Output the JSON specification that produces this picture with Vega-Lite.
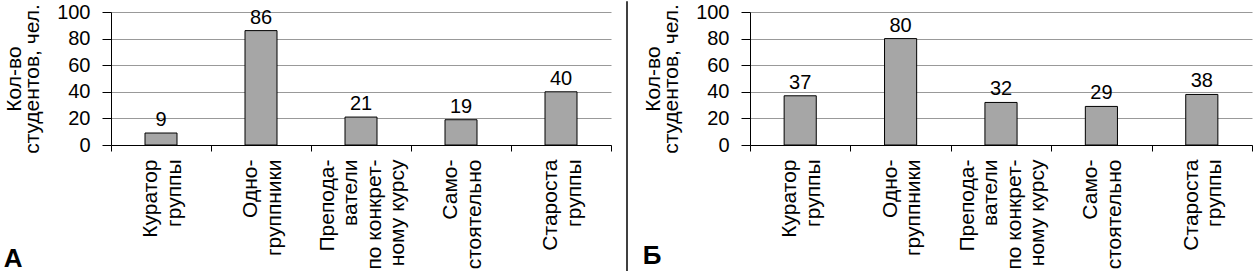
{
  "$schema": "https://vega.github.io/schema/vega-lite/v6.json",
  "padding": {"left": 3, "top": 0, "right": 0, "bottom": 0},
  "background": "white",
  "config": {
    "font": "Liberation Sans",
    "view": {"stroke": null},
    "concat": {"spacing": 14},
    "axis": {
      "labelFont": "Liberation Sans", "labelFontSize": 20, "labelColor": "black",
      "titleFont": "Liberation Sans", "titleFontSize": 21, "titleFontWeight": "normal", "titleColor": "black",
      "domainColor": "black", "tickColor": "black"
    },
    "axisX": {
      "title": null, "labelAngle": -90, "labelExpr": "split(datum.label, '|')", "tickBand": "extent",
      "tickSize": 6, "labelPadding": 8, "labelFontSize": 21, "labelLineHeight": 23.5, "grid": false,
      "labelOffset": {"condition": {"test": "length(split(datum.value, '|')) == 4", "value": -34}, "value": -10.5}
    },
    "axisY": {
      "values": [0, 20, 40, 60, 80, 100], "titlePadding": 14, "tickSize": 9, "labelPadding": 12,
      "gridColor": "#999999", "titleLineHeight": 18
    },
    "title": {"font": "Liberation Sans", "fontSize": 26, "fontWeight": "bold", "color": "black"}
  },
  "datasets": {
    "a": [
      {"category": "Куратор|группы", "value": 9},
      {"category": "Одно-|группники", "value": 86},
      {"category": "Препода-|ватели|по конкрет-|ному курсу", "value": 21},
      {"category": "Само-|стоятельно", "value": 19},
      {"category": "Староста|группы", "value": 40}
    ],
    "b": [
      {"category": "Куратор|группы", "value": 37},
      {"category": "Одно-|группники", "value": 80},
      {"category": "Препода-|ватели|по конкрет-|ному курсу", "value": 32},
      {"category": "Само-|стоятельно", "value": 29},
      {"category": "Староста|группы", "value": 38}
    ]
  },
  "hconcat": [
    {
      "width": 500, "height": 133,
      "data": {"name": "a"},
      "title": {"text": "А", "orient": "bottom", "anchor": "start", "frame": "bounds", "offset": -23},
      "encoding": {
        "x": {"field": "category", "type": "nominal", "sort": null,
          "scale": {"paddingInner": 0, "paddingOuter": 0}},
        "y": {"field": "value", "type": "quantitative", "scale": {"domain": [0, 100]},
          "axis": {"title": ["Кол-во", "студентов, чел."]}}
      },
      "layer": [
        {"mark": {"type": "bar", "width": {"band": 0.32}, "fill": "#a6a6a6", "stroke": "black", "strokeWidth": 1}},
        {"mark": {"type": "text", "baseline": "alphabetic", "dy": -7, "fontSize": 20, "color": "black"}, "encoding": {"text": {"field": "value"}}}
      ]
    },
    {
      "width": 1, "height": 133,
      "data": {"values": [{}]},
      "mark": {"type": "rule", "stroke": "black", "strokeWidth": 1.5},
      "encoding": {
        "x": {"datum": 0, "type": "quantitative", "scale": {"domain": [0, 1]}, "axis": null},
        "y": {"datum": -96, "type": "quantitative", "scale": {"domain": [0, 100]}, "axis": null},
        "y2": {"datum": 108}
      }
    },
    {
      "width": 502, "height": 133,
      "data": {"name": "b"},
      "title": {"text": "Б", "orient": "bottom", "anchor": "start", "frame": "bounds", "offset": -26},
      "encoding": {
        "x": {"field": "category", "type": "nominal", "sort": null,
          "scale": {"paddingInner": 0, "paddingOuter": 0}},
        "y": {"field": "value", "type": "quantitative", "scale": {"domain": [0, 100]},
          "axis": {"title": ["Кол-во", "студентов, чел."]}}
      },
      "layer": [
        {"mark": {"type": "bar", "width": {"band": 0.32}, "fill": "#a6a6a6", "stroke": "black", "strokeWidth": 1}},
        {"mark": {"type": "text", "baseline": "alphabetic", "dy": -7, "fontSize": 20, "color": "black"}, "encoding": {"text": {"field": "value"}}}
      ]
    }
  ]
}
